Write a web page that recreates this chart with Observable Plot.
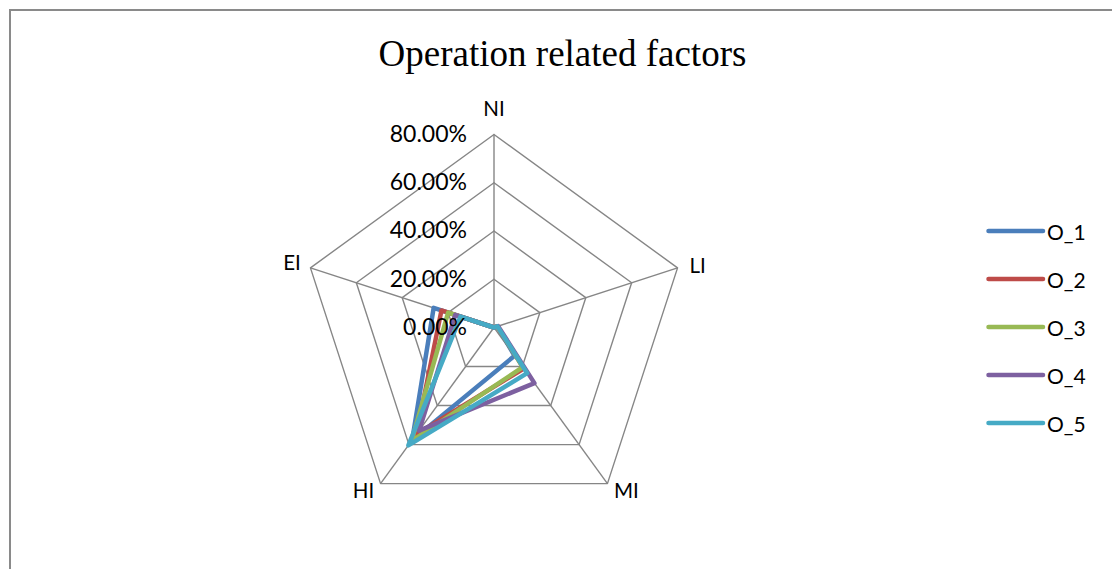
<!DOCTYPE html>
<html>
<head>
<meta charset="utf-8">
<script src="https://cdn.jsdelivr.net/npm/d3@7"></script>
<script src="https://cdn.jsdelivr.net/npm/@observablehq/plot@0.6"></script>
<style>
  html, body { margin: 0; padding: 0; background: #fff; overflow: hidden; }
  #wrap { position: relative; width: 1112px; height: 569px; overflow: hidden; }
  #frame { position: absolute; left: 9px; top: 9px; width: 1200px; height: 700px; border-left: 2px solid #8a8a8a; border-top: 2px solid #8a8a8a; box-sizing: border-box; }
  #title { position: absolute; left: 0; width: 1125px; top: 32px; text-align: center; font-family: "Liberation Serif", "Times New Roman", serif; font-size: 37px; line-height: normal; color: #000; }
  #chart { position: absolute; left: 0; top: 0; }
  #legend { position: absolute; left: 986px; top: 0; font-family: Lato, sans-serif; font-size: 21px; color: #000; }
  .item { position: absolute; left: 0; display: flex; align-items: center; white-space: nowrap; }
</style>
</head>
<body>
<div id="wrap">
  <div id="frame"></div>
  <div id="chart"></div>
  <div id="title">Operation related factors</div>
  <div id="legend"></div>
</div>
<script>
// ---- data ----
const categories = ["NI", "LI", "MI", "HI", "EI"];
const seriesNames = ["O_1", "O_2", "O_3", "O_4", "O_5"];
const O_1 = [0, 1.5, 14.5, 57.7, 26.3];
const O_2 = [0, 1.5, 21.0, 54.6, 22.9];
const O_3 = [0, 1.5, 20.3, 58.2, 20.0];
const O_4 = [0, 1.8, 28.5, 52.8, 16.9];
const O_5 = [0, 1.5, 23.4, 60.4, 14.6];
const tickValues = [0, 20, 40, 60, 80];
const tickLabels = ["0.00%", "20.00%", "40.00%", "60.00%", "80.00%"];
const colors = ["#4a7ebb", "#be4b48", "#98b954", "#7d60a0", "#46aac5"];

// ---- geometry helpers (polar -> cartesian in value units) ----
const seriesValues = [O_1, O_2, O_3, O_4, O_5];
const n = categories.length;
const ang = i => (2 * Math.PI * i) / n;
const px = (r, i) => r * Math.sin(ang(i));
const py = (r, i) => r * Math.cos(ang(i));
const maxR = tickValues[tickValues.length - 1];

// grid rings
const rings = [];
tickValues.forEach(t => {
  for (let k = 0; k <= n; k++) rings.push({ring: t, x: px(t, k % n), y: py(t, k % n)});
});
// spokes
const spokes = categories.map((c, i) => ({x1: 0, y1: 0, x2: px(maxR, i), y2: py(maxR, i)}));
// series polygons
const pts = [];
seriesNames.forEach((s, si) => {
  for (let k = 0; k <= n; k++) {
    const i = k % n;
    const v = seriesValues[si][i];
    pts.push({series: s, x: px(v, i), y: py(v, i)});
  }
});
// tick labels on first axis
const ticks = tickValues.map((t, i) => ({x: px(t, 0), y: py(t, 0), label: tickLabels[i]}));

// category label offsets (pixels, by axis position) – styling only
const labelOffsets = [[0, -25], [20, -1], [19, 8], [-17, 8], [-18.5, -4]];
const catMarks = categories.map((c, i) =>
  Plot.text([{x: px(maxR, i), y: py(maxR, i), label: c}], {
    x: "x", y: "y", text: "label", fontSize: 20.5, fill: "#000",
    dx: labelOffsets[i][0], dy: labelOffsets[i][1]
  })
);

// scale: 193 px for 80%, center at (493.5, 327)
const W = 1112, H = 569, cx = 493.5, cy = 327, k = 193 / maxR;

const chart = Plot.plot({
  width: W,
  height: H,
  margin: 0,
  style: {fontFamily: "Lato, sans-serif", background: "transparent", overflow: "visible"},
  x: {domain: [-cx / k, (W - cx) / k], axis: null},
  y: {domain: [-(H - cy) / k, cy / k], axis: null},
  color: {domain: seriesNames, range: colors},
  marks: [
    Plot.line(rings, {x: "x", y: "y", z: "ring", stroke: "#868686", strokeWidth: 1.4}),
    Plot.link(spokes, {x1: "x1", y1: "y1", x2: "x2", y2: "y2", stroke: "#868686", strokeWidth: 1.4}),
    Plot.line(pts, {x: "x", y: "y", z: "series", stroke: "series", strokeWidth: 4.5, strokeLinejoin: "round", strokeLinecap: "round"}),
    Plot.text(ticks, {x: "x", y: "y", text: "label", textAnchor: "end", dx: -27, fontSize: 23, fill: "#000"}),
    ...catMarks
  ]
});
document.getElementById("chart").appendChild(chart);

// legend
const legend = d3.select("#legend");
const legendTop = 231, legendStep = 48;
seriesNames.forEach((s, i) => {
  const item = legend.append("div").attr("class", "item")
    .style("top", (legendTop + i * legendStep - 14) + "px")
    .style("height", "28px");
  const svg = item.append("svg").attr("width", 61).attr("height", 28);
  svg.append("line").attr("x1", 2.5).attr("x2", 57).attr("y1", 14).attr("y2", 14)
    .attr("stroke", colors[i]).attr("stroke-width", 4.5).attr("stroke-linecap", "round");
  item.append("span").text(s);
});
</script>
</body>
</html>
